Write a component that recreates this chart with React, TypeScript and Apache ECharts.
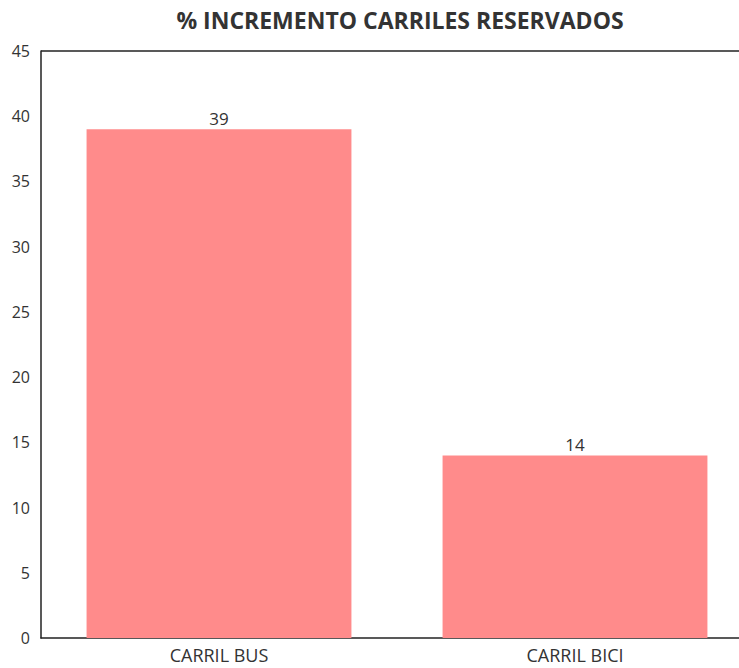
import React, { useEffect, useRef } from "react";
import * as echarts from "echarts";

const categories = ["CARRIL BUS", "CARRIL BICI"];
const values = [39, 14];
const titleText = "% INCREMENTO CARRILES RESERVADOS";

export default function App() {
  const ref = useRef<HTMLDivElement>(null);
  useEffect(() => {
    if (!ref.current) return;
    const chart = echarts.init(ref.current, null, { renderer: "svg" });
    chart.setOption({
      animation: false,
      textStyle: { fontFamily: "Open Sans" },
      title: {
        text: titleText,
        left: 395,
        top: 3,
        textAlign: "center",
        textStyle: { fontFamily: "Open Sans", fontWeight: "bold", fontSize: 23, color: "#333" },
      },
      grid: { left: 41, right: 0, top: 51, bottom: 30, containLabel: false, show: false },
      xAxis: {
        type: "category",
        data: categories,
        axisLine: { show: true, lineStyle: { color: "#222", width: 1.5 } },
        axisTick: { show: false },
        axisLabel: { color: "#333", fontSize: 18, margin: 8, fontFamily: "Open Sans" },
      },
      yAxis: {
        type: "value",
        min: 0,
        max: 45,
        interval: 5,
        axisLine: { show: true, lineStyle: { color: "#222", width: 1.5 } },
        axisTick: { show: false },
        splitLine: { show: false },
        axisLabel: { color: "#333", fontSize: 16, margin: 11, fontFamily: "Open Sans" },
      },
      graphic: [
        {
          type: "line",
          shape: { x1: 41, y1: 51, x2: 753, y2: 51 },
          style: { stroke: "#222", lineWidth: 1.5 },
        },
      ],
      series: [
        {
          type: "bar",
          data: values,
          barCategoryGap: "25.6%",
          itemStyle: { color: "#FF8B8B" },
          label: { show: true, position: "top", color: "#333", fontSize: 17, distance: 2, fontFamily: "Open Sans" },
        },
      ],
    });
    return () => chart.dispose();
  }, []);
  return (
    <div style={{ position: "absolute", left: 0, top: 0, width: 739, height: 668, overflow: "hidden", background: "#fff" }}>
      <div ref={ref} style={{ width: 753, height: 668 }} />
    </div>
  );
}
